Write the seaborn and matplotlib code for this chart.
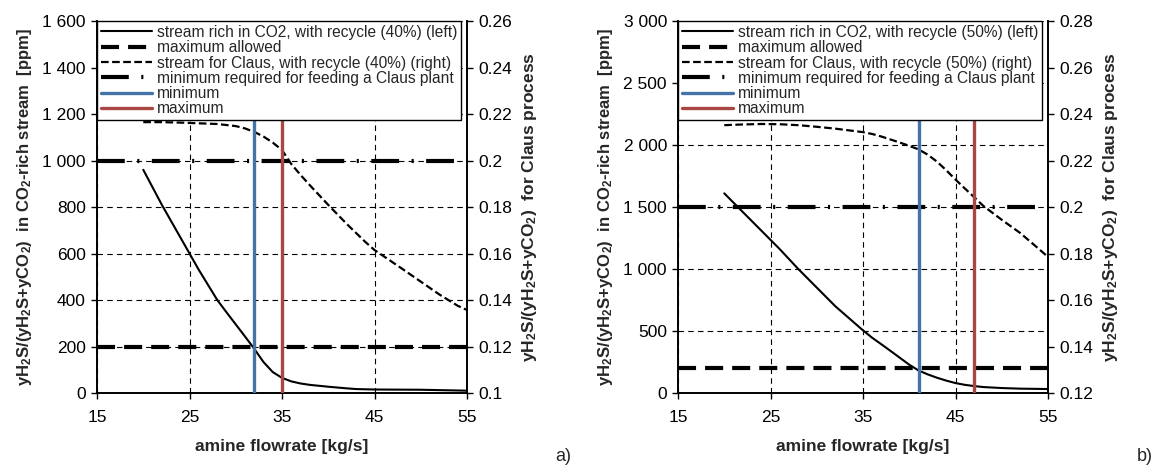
import numpy as np
import seaborn as sns
import matplotlib.pyplot as plt
from matplotlib.ticker import MultipleLocator, FuncFormatter

# panel a) recycle 40 %
flow_a = [20, 21, 22, 23, 24, 25, 26, 27, 28, 29, 30, 31, 32, 33, 34, 35, 36, 37,
          38, 40, 42, 43, 45, 50, 55]
rich_a = [960, 885, 810, 740, 670, 600, 530, 465, 400, 347, 295, 243, 190, 133, 90,
          65, 50, 41, 35, 27, 20, 17, 15, 14, 10]
claus_flow_a = [20, 22, 24, 26, 28, 30, 31, 32, 33, 34, 35, 36, 37, 38, 40, 42, 44,
                45, 46, 48, 50, 52, 54, 55]
claus_a = [0.2165, 0.2165, 0.2163, 0.2160, 0.2157, 0.2148, 0.2138, 0.2123, 0.2103,
           0.2077, 0.2045, 0.1985, 0.1938, 0.1894, 0.1809, 0.1727, 0.1650, 0.1615,
           0.1588, 0.1534, 0.1479, 0.1424, 0.1375, 0.1357]

# panel b) recycle 50 %
flow_b = [20, 21, 22, 23, 24, 25, 26, 27, 28, 29, 30, 31, 32, 33, 34, 35, 36, 37,
          38, 39, 40, 41, 42, 43, 44, 45, 46, 47, 48, 50, 52, 55]
rich_b = [1610, 1535, 1460, 1385, 1310, 1235, 1160, 1080, 1000, 925, 850, 775, 700,
          635, 570, 505, 445, 392, 338, 283, 228, 182, 150, 123, 100, 80, 66, 56, 48,
          40, 35, 32]
claus_flow_b = [20, 22, 24, 26, 28, 30, 32, 34, 35, 36, 37, 38, 39, 40, 41, 42, 43,
                44, 45, 46, 47, 48, 50, 52, 54, 55]
claus_b = [0.2352, 0.2355, 0.2357, 0.2356, 0.2352, 0.2345, 0.2337, 0.2327, 0.2322,
           0.2314, 0.2303, 0.2290, 0.2277, 0.2263, 0.2248, 0.2225, 0.2195, 0.2158,
           0.2118, 0.2080, 0.2043, 0.2005, 0.1945, 0.1888, 0.1820, 0.1785]

x_ticks = [15, 25, 35, 45, 55]

panels = [
    dict(flow=flow_a, rich=rich_a, cflow=claus_flow_a, claus=claus_a, pct="40%",
         lmax=1600, lstep=200, rlim=(0.1, 0.26), max_allowed=200, min_req=0.2,
         vmin=32, vmax=35, tag="a)"),
    dict(flow=flow_b, rich=rich_b, cflow=claus_flow_b, claus=claus_b, pct="50%",
         lmax=3000, lstep=500, rlim=(0.12, 0.28), max_allowed=200, min_req=0.2,
         vmin=41, vmax=47, tag="b)"),
]

sns.set_theme(style="white")
plt.rcParams['font.family'] = ['Liberation Sans', 'DejaVu Sans']
plt.rcParams['mathtext.default'] = 'regular'
plt.rcParams['lines.scale_dashes'] = False

BLUE = "#4572A7"
RED = "#AA4643"

fig = plt.figure(figsize=(11.62, 4.71), dpi=100)
lefts = [0.0835, 0.5835]
W = 0.3184

def thousands(v, pos):
    return f"{v:,.0f}".replace(",", " ")

def general(v, pos):
    return f"{round(v, 4):g}"

for p, left in zip(panels, lefts):
    ax = fig.add_axes([left, 0.1656, W, 0.7898])
    ax2 = ax.twinx()

    sns.lineplot(x=p["flow"], y=p["rich"], ax=ax, color="black", lw=1.5,
                 label=f"stream rich in CO2, with recycle ({p['pct']}) (left)",
                 legend=False)
    ax.axhline(p["max_allowed"], color="black", lw=3.0, linestyle=(0, (13, 6.5)),
               label="maximum allowed")

    sns.lineplot(x=p["cflow"], y=p["claus"], ax=ax2, color="black", lw=1.6,
                 linestyle=(0, (5.5, 2.5)),
                 label=f"stream for Claus, with recycle ({p['pct']}) (right)",
                 legend=False)
    ax2.axhline(p["min_req"], color="black", lw=3.0,
                linestyle=(0, (20, 9, 1.5, 9)),
                label="minimum required for feeding a Claus plant")
    ax2.axvline(p["vmin"], color=BLUE, lw=2.4, label="minimum")
    ax2.axvline(p["vmax"], color=RED, lw=2.4, label="maximum")

    ax.set_xlim(15, 55)
    ax.set_ylim(0, p["lmax"])
    ax2.set_ylim(*p["rlim"])
    ax.set_xticks(x_ticks)
    ax.yaxis.set_major_locator(MultipleLocator(p["lstep"]))
    ax2.yaxis.set_major_locator(MultipleLocator(0.02))
    ax.yaxis.set_major_formatter(FuncFormatter(thousands))
    ax2.yaxis.set_major_formatter(FuncFormatter(general))

    ax.grid(True, color="black", lw=0.8, linestyle=(0, (4, 3)))
    ax.set_axisbelow(True)
    for a in (ax, ax2):
        for s in a.spines.values():
            s.set_visible(False)
    for s in ("left", "bottom"):
        ax.spines[s].set_visible(True)
        ax.spines[s].set_color("black")
        ax.spines[s].set_linewidth(1.4)
    ax2.spines["right"].set_visible(True)
    ax2.spines["right"].set_color("black")
    ax2.spines["right"].set_linewidth(1.4)

    ax.tick_params(axis="both", direction="out", length=4, width=1, colors="black",
                   labelsize=12.5, left=True, bottom=True, pad=4)
    ax.tick_params(axis="x", pad=8)
    ax2.tick_params(axis="y", direction="out", length=4, width=1, colors="black",
                    labelsize=12.5, right=True, pad=4)

    ax.set_xlabel("amine flowrate [kg/s]", fontsize=12.5, fontweight="bold",
                  labelpad=10)
    ax.set_ylabel("yH$_2$S/(yH$_2$S+yCO$_2$)  in CO$_2$-rich stream  [ppm]",
                  fontsize=12, fontweight="bold", labelpad=6)
    ax2.set_ylabel("yH$_2$S/(yH$_2$S+yCO$_2$)  for Claus process",
                   fontsize=12.5, fontweight="bold", labelpad=6)

    h1, l1 = ax.get_legend_handles_labels()
    h2, l2 = ax2.get_legend_handles_labels()
    handles = [h1[0], h1[1], h2[0], h2[1], h2[2], h2[3]]
    labels = [l1[0], l1[1], l2[0], l2[1], l2[2], l2[3]]
    leg = ax2.legend(handles, labels, loc="upper left", bbox_to_anchor=(0, 1),
                     borderaxespad=0, fontsize=11.2, frameon=True, fancybox=False,
                     edgecolor="black", framealpha=1, handlelength=3.3,
                     handletextpad=0.3, labelspacing=0.02, borderpad=0.25)
    leg.get_frame().set_linewidth(1.0)
    leg.set_zorder(10)

    fig.text(left + W + 0.083, 0.022, p["tag"], fontsize=13, ha="center")

fig.savefig("out.png", dpi=100)
